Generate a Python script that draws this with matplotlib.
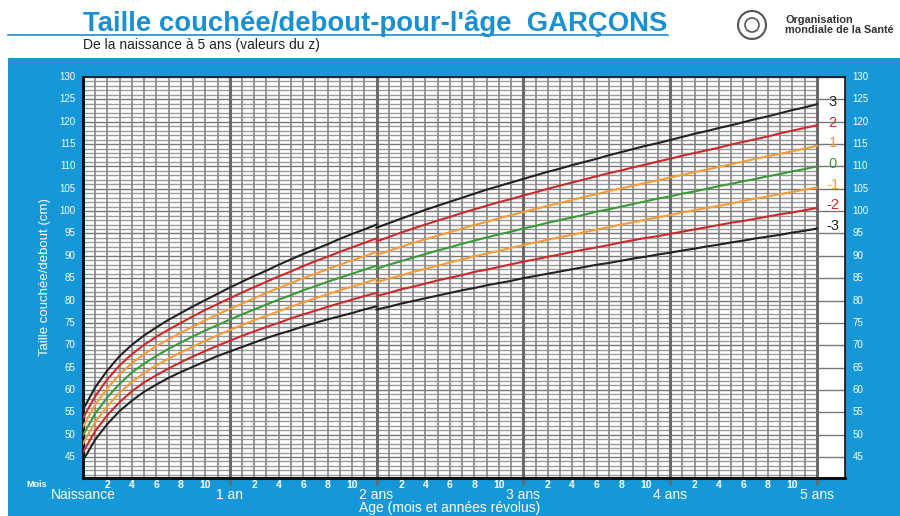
import numpy as np
import matplotlib.pyplot as plt
from matplotlib.patches import Rectangle, Ellipse

# Données OMS - taille couchée (0-24 mois) puis debout (24-60 mois), garçons
mois_couche = list(range(0, 25))
mois_debout = list(range(24, 61))

z_labels = ['3', '2', '1', '0', '-1', '-2', '-3']
z_colors = ['#222222', '#cc2a2a', '#f49b3a', '#3a9a3a', '#f49b3a', '#cc2a2a', '#222222']

couche_p3 = [55.6, 60.6, 64.4, 67.6, 70.1, 72.2, 74.0, 75.7, 77.2, 78.7, 80.1, 81.5, 82.9,
             84.2, 85.5, 86.7, 88.0, 89.2, 90.4, 91.5, 92.6, 93.8, 94.9, 95.9, 97.0]
couche_p2 = [53.7, 58.6, 62.4, 65.5, 68.0, 70.1, 71.9, 73.5, 75.0, 76.5, 77.9, 79.2, 80.5,
             81.8, 83.0, 84.2, 85.4, 86.5, 87.7, 88.8, 89.8, 90.9, 91.9, 92.9, 93.9]
couche_p1 = [51.8, 56.7, 60.4, 63.5, 66.0, 68.0, 69.8, 71.3, 72.8, 74.2, 75.6, 76.9, 78.1,
             79.3, 80.5, 81.7, 82.8, 83.9, 85.0, 86.0, 87.0, 88.0, 89.0, 89.9, 90.9]
couche_0 = [49.9, 54.7, 58.4, 61.4, 63.9, 65.9, 67.6, 69.2, 70.6, 72.0, 73.3, 74.5, 75.7,
            76.9, 78.0, 79.1, 80.2, 81.2, 82.3, 83.2, 84.2, 85.1, 86.0, 86.9, 87.8]
couche_m1 = [48.0, 52.8, 56.4, 59.4, 61.8, 63.8, 65.5, 67.0, 68.4, 69.7, 71.0, 72.2, 73.4,
             74.5, 75.6, 76.6, 77.6, 78.6, 79.6, 80.5, 81.4, 82.3, 83.1, 83.9, 84.8]
couche_m2 = [46.1, 50.8, 54.4, 57.3, 59.7, 61.7, 63.3, 64.8, 66.2, 67.5, 68.7, 69.9, 71.0,
             72.1, 73.1, 74.1, 75.0, 76.0, 76.9, 77.7, 78.6, 79.4, 80.2, 81.0, 81.7]
couche_m3 = [44.2, 48.9, 52.4, 55.3, 57.6, 59.6, 61.2, 62.7, 64.0, 65.2, 66.4, 67.6, 68.6,
             69.6, 70.6, 71.6, 72.5, 73.3, 74.2, 75.0, 75.8, 76.5, 77.2, 78.0, 78.7]

debout_p3 = [96.3, 97.3, 98.3, 99.3, 100.3, 101.2, 102.1, 103.0, 103.9, 104.8, 105.6, 106.4,
             107.2, 108.0, 108.8, 109.5, 110.3, 111.0, 111.7, 112.5, 113.2, 113.9, 114.6,
             115.2, 115.9, 116.6, 117.3, 117.9, 118.6, 119.2, 119.9, 120.6, 121.2, 121.9,
             122.6, 123.2, 123.9]
debout_p2 = [93.2, 94.2, 95.2, 96.1, 97.0, 97.9, 98.7, 99.6, 100.4, 101.2, 102.0, 102.7,
             103.5, 104.2, 105.0, 105.7, 106.4, 107.1, 107.8, 108.5, 109.1, 109.8, 110.4,
             111.1, 111.7, 112.4, 113.0, 113.6, 114.2, 114.9, 115.5, 116.1, 116.7, 117.4,
             118.0, 118.6, 119.2]
debout_p1 = [90.2, 91.1, 92.0, 92.9, 93.7, 94.5, 95.3, 96.1, 96.9, 97.6, 98.4, 99.1,
             99.8, 100.5, 101.2, 101.8, 102.5, 103.2, 103.8, 104.5, 105.1, 105.7, 106.3,
             106.9, 107.5, 108.1, 108.7, 109.3, 109.9, 110.5, 111.1, 111.7, 112.3, 112.8,
             113.4, 114.0, 114.6]
debout_0 = [87.1, 88.0, 88.8, 89.6, 90.4, 91.2, 91.9, 92.7, 93.4, 94.1, 94.8, 95.4,
            96.1, 96.7, 97.4, 98.0, 98.6, 99.2, 99.9, 100.4, 101.0, 101.6, 102.2,
            102.8, 103.3, 103.9, 104.4, 105.0, 105.6, 106.1, 106.7, 107.2, 107.8, 108.3,
            108.9, 109.4, 110.0]
debout_m1 = [84.1, 84.9, 85.6, 86.4, 87.1, 87.8, 88.5, 89.2, 89.9, 90.5, 91.1, 91.8,
             92.4, 93.0, 93.6, 94.2, 94.7, 95.3, 95.9, 96.4, 97.0, 97.5, 98.1,
             98.6, 99.1, 99.7, 100.2, 100.7, 101.2, 101.7, 102.3, 102.8, 103.3, 103.8,
             104.3, 104.8, 105.3]
debout_m2 = [81.0, 81.7, 82.5, 83.1, 83.8, 84.5, 85.1, 85.7, 86.4, 86.9, 87.5, 88.1,
             88.7, 89.2, 89.8, 90.3, 90.9, 91.4, 91.9, 92.4, 93.0, 93.5, 94.0,
             94.4, 94.9, 95.4, 95.9, 96.4, 96.9, 97.4, 97.8, 98.3, 98.8, 99.3,
             99.7, 100.2, 100.7]
debout_m3 = [78.0, 78.6, 79.3, 79.9, 80.5, 81.1, 81.7, 82.3, 82.8, 83.4, 83.9, 84.4,
             85.0, 85.5, 86.0, 86.5, 87.0, 87.5, 88.0, 88.4, 88.9, 89.4, 89.8,
             90.3, 90.7, 91.2, 91.6, 92.1, 92.5, 93.0, 93.4, 93.9, 94.3, 94.7,
             95.2, 95.6, 96.1]

couche = [couche_p3, couche_p2, couche_p1, couche_0, couche_m1, couche_m2, couche_m3]
debout = [debout_p3, debout_p2, debout_p1, debout_0, debout_m1, debout_m2, debout_m3]

y_ticks = list(range(45, 131, 5))
mois_labels = ['2', '4', '6', '8', '10']
annee_labels = ['Naissance', '1 an', '2 ans', '3 ans', '4 ans', '5 ans']

bleu = '#1597d8'
x_max = 62.3
y_min, y_max = 40.3, 130

fig = plt.figure(figsize=(9, 5.16), dpi=100)
fig.patch.set_facecolor('white')
plt.rcParams['font.family'] = ['Liberation Sans', 'DejaVu Sans']

# fond bleu
fig.patches.append(Rectangle((8 / 900, 0), 892 / 900, 1 - 58 / 516, transform=fig.transFigure,
                             facecolor=bleu, edgecolor='none', zorder=-5))

# en-tête
fig.text(83 / 900, 1 - 31 / 516, "Taille couchée/debout-pour-l'âge  GARÇONS", fontsize=19.8,
         fontweight='bold', color='#1a8fd2', va='baseline', ha='left')
fig.lines.append(plt.Line2D([8 / 900, 668 / 900], [1 - 35 / 516, 1 - 35 / 516],
                            transform=fig.transFigure, color='#1a8fd2', lw=1.2))
fig.text(83 / 900, 1 - 45 / 516, "De la naissance à 5 ans (valeurs du z)", fontsize=10,
         color='#222222', va='center', ha='left')
fig.patches.append(Ellipse((752 / 900, 1 - 25 / 516), 28 / 900, 28 / 516, transform=fig.transFigure,
                           facecolor='white', edgecolor='#555555', lw=1.5))
fig.patches.append(Ellipse((752 / 900, 1 - 25 / 516), 14 / 900, 14 / 516, transform=fig.transFigure,
                           facecolor='none', edgecolor='#555555', lw=1.2))
fig.text(785 / 900, 1 - 25 / 516, "Organisation\nmondiale de la Santé", fontsize=7.8,
         fontweight='bold', color='#333333', va='center', ha='left', linespacing=0.95)

ax = fig.add_axes([83 / 900, 1 - 478 / 516, (845 - 83) / 900, (478 - 77) / 516])
ax.set_facecolor('white')
ax.set_xlim(0, x_max)
ax.set_ylim(y_min, y_max)

# quadrillage
for y in range(41, 131):
    if y % 5 == 0:
        ax.hlines(y, 0, x_max, color='#777777', lw=1.0, zorder=1)
    else:
        ax.hlines(y, 0, 60, color='#9a9a9a', lw=1.0, zorder=1)
for m in range(1, 61):
    if m % 12 == 0:
        ax.axvline(m, color='#6a6a6a', lw=2.2, zorder=2)
    else:
        ax.axvline(m, color='#858585', lw=1.2, zorder=2)

# courbes
for i in range(len(z_labels)):
    ax.plot(mois_couche, couche[i], color=z_colors[i], lw=1.5, zorder=3)
    ax.plot(mois_debout, debout[i], color=z_colors[i], lw=1.5, zorder=3)
    ax.text(61.3, debout[i][-1] + 0.6, z_labels[i], color=z_colors[i], fontsize=10.5,
            ha='center', va='center', zorder=4)

for s in ax.spines.values():
    s.set_color('#111111')
    s.set_linewidth(1.2)
ax.spines['left'].set_linewidth(2.2)
ax.spines['bottom'].set_linewidth(2.2)

ax.set_yticks([])
ax.set_xticks([12, 24, 36, 48, 60])
ax.set_xticklabels([])
ax.tick_params(axis='x', length=5, width=2, color='#6a6a6a', direction='out')

for y in y_ticks:
    ax.text(-0.6, y, str(y), color='white', fontsize=7, ha='right', va='center')
    ax.text(x_max + 0.6, y, str(y), color='white', fontsize=7, ha='left', va='center')

trans = ax.get_xaxis_transform()
for a in range(5):
    for j, lab in enumerate(mois_labels):
        ax.text(a * 12 + 2 * (j + 1), -0.004, lab, transform=trans, color='white', fontsize=7.5,
                fontweight='bold', ha='center', va='top')
for a, lab in enumerate(annee_labels):
    ax.text(a * 12, -0.026, lab, transform=trans, color='white', fontsize=10,
            ha='center', va='top')
ax.text(-3.8, -0.004, 'Mois', transform=trans, color='white', fontsize=6.5, fontweight='bold',
        ha='center', va='top')
ax.text(30, -0.058, 'Age (mois et années révolus)', transform=trans, color='white', fontsize=10,
        ha='center', va='top')
ax.text(-0.05, 0.5, 'Taille couchée/debout (cm)', transform=ax.transAxes, color='white',
        fontsize=9.5, rotation=90, ha='center', va='center')

fig.savefig('out.png', dpi=100)
